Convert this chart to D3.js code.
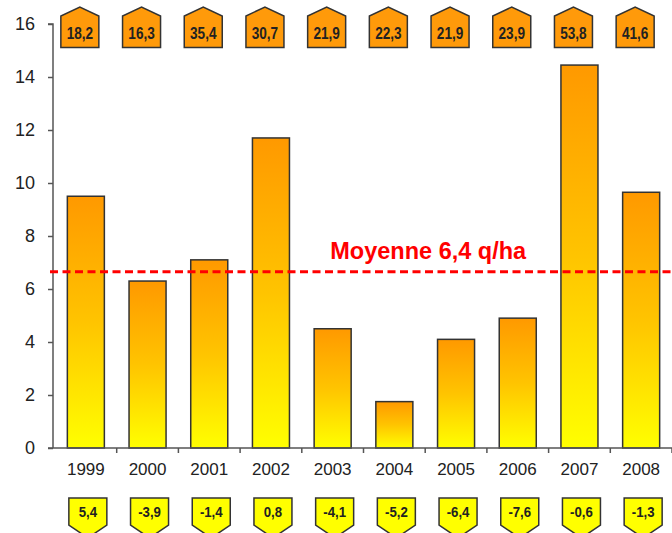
<!DOCTYPE html>
<html>
<head>
<meta charset="utf-8">
<script src="https://cdn.jsdelivr.net/npm/d3@7"></script>
<style>
  html, body { margin: 0; padding: 0; background: #fff; }
  svg { display: block; font-family: "Liberation Sans", Arial, sans-serif; }
</style>
</head>
<body>
<svg id="chart" width="672" height="533"></svg>
<script>
// ---- data ----
const years = ["1999","2000","2001","2002","2003","2004","2005","2006","2007","2008"];
const yields = [9.5, 6.3, 7.1, 11.7, 4.5, 1.75, 4.1, 4.9, 14.45, 9.65];
const topLabels = ["18,2","16,3","35,4","30,7","21,9","22,3","21,9","23,9","53,8","41,6"];
const bottomLabels = ["5,4","-3,9","-1,4","0,8","-4,1","-5,2","-6,4","-7,6","-0,6","-1,3"];
const yTicks = [0, 2, 4, 6, 8, 10, 12, 14, 16];
const meanValue = 6.65;
const meanLabel = "Moyenne 6,4 q/ha";

// ---- layout ----
const svg = d3.select("#chart");
const axisX = 53, x0 = 55, x1 = 672;
const yBottom = 448, yTop = 24;

const x = d3.scaleBand().domain(years).range([x0, x1]).paddingInner(0.4).paddingOuter(0.2);
const y = d3.scaleLinear().domain([0, 16]).range([yBottom, yTop]);
const step = x.step();

// gradient
const defs = svg.append("defs");
const grad = defs.append("linearGradient").attr("id", "barGrad")
  .attr("x1", 0).attr("y1", 0).attr("x2", 0).attr("y2", 1);
grad.append("stop").attr("offset", "0%").attr("stop-color", "#FF9900");
grad.append("stop").attr("offset", "50%").attr("stop-color", "#FFC400");
grad.append("stop").attr("offset", "100%").attr("stop-color", "#FFFF00");

// y axis
const yAxis = d3.axisLeft(y).tickValues(yTicks).tickSize(5).tickPadding(13).tickFormat(d3.format("d"));
const gy = svg.append("g").attr("transform", `translate(${axisX},0)`).call(yAxis);
gy.select(".domain").attr("stroke", "#555").attr("stroke-width", 1.5).attr("d", `M-5,${y(16)}H0V${y(0)}`);
gy.selectAll(".tick line").attr("stroke", "#555").attr("stroke-width", 1.5);
gy.selectAll(".tick text").attr("fill", "#222").style("font-size", "18px");

// bars
svg.append("g").selectAll("rect").data(years).join("rect")
  .attr("x", d => x(d))
  .attr("width", x.bandwidth())
  .attr("y", (d, i) => y(yields[i]))
  .attr("height", (d, i) => y(0) - y(yields[i]))
  .attr("fill", "url(#barGrad)")
  .attr("stroke", "#333")
  .attr("stroke-width", 1.5);

// x axis line + boundary ticks
svg.append("line").attr("x1", axisX - 5).attr("x2", x1).attr("y1", y(0)).attr("y2", y(0))
  .attr("stroke", "#555").attr("stroke-width", 1.5);
const bounds = years.map(d => x(d) - step * 0.2 + step);
svg.append("g").selectAll("line").data(bounds).join("line")
  .attr("x1", d => d).attr("x2", d => d)
  .attr("y1", y(0)).attr("y2", y(0) + 5)
  .attr("stroke", "#555").attr("stroke-width", 1.5);

// year labels
svg.append("g").selectAll("text").data(years).join("text")
  .attr("x", d => x(d) + x.bandwidth() / 2)
  .attr("y", y(0) + 27)
  .attr("text-anchor", "middle")
  .attr("fill", "#222")
  .style("font-size", "17px")
  .text(d => d);

// mean line
svg.append("line")
  .attr("x1", axisX - 3).attr("x2", x1)
  .attr("y1", y(meanValue)).attr("y2", y(meanValue))
  .attr("stroke", "#FF0000").attr("stroke-width", 3)
  .attr("stroke-dasharray", "8,4.5");
svg.append("text")
  .attr("x", x(years[6]) - step * 0.2 + 3)
  .attr("y", y(meanValue) - 13)
  .attr("text-anchor", "middle")
  .attr("fill", "#FF0000")
  .style("font-size", "23.5px")
  .style("font-weight", "bold")
  .text(meanLabel);

// top badges (house shape)
const bw = 38;
const topG = svg.append("g").selectAll("g").data(years).join("g")
  .attr("transform", d => `translate(${x(d) + x.bandwidth() / 2 - 6},0)`);
topG.append("path")
  .attr("d", `M${-bw/2},47.5 V16 L0,7 L${bw/2},16 V47.5 Z`)
  .attr("fill", "#FF9A0A").attr("stroke", "#333").attr("stroke-width", 1.5);
topG.append("text")
  .attr("transform", "translate(0,39) scale(0.8,1)")
  .attr("text-anchor", "middle")
  .attr("fill", "#222")
  .style("font-size", "17px").style("font-weight", "bold")
  .text((d, i) => topLabels[i]);

// bottom badges (inverted house)
const botG = svg.append("g").selectAll("g").data(years).join("g")
  .attr("transform", d => `translate(${x(d) + x.bandwidth() / 2 + 2},0)`);
botG.append("path")
  .attr("d", `M${-bw/2},498 H${bw/2} V525 L0,538 L${-bw/2},525 Z`)
  .attr("fill", "#FFFF00").attr("stroke", "#333").attr("stroke-width", 1.5);
botG.append("text")
  .attr("transform", "translate(0,517) scale(0.88,1)")
  .attr("text-anchor", "middle")
  .attr("fill", "#222")
  .style("font-size", "15px").style("font-weight", "bold")
  .text((d, i) => bottomLabels[i]);
</script>
</body>
</html>
